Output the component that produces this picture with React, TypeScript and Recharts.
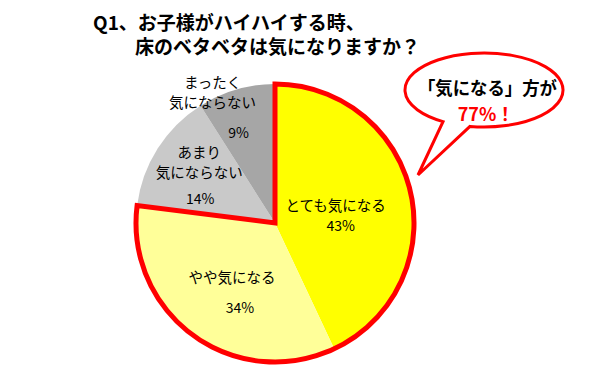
import { PieChart, Pie, Cell } from "recharts";

const categories = ["とても気になる", "やや気になる", "あまり気にならない", "まったく気にならない"];
const values = [43, 34, 14, 9];
const labelLines = [["とても気になる"], ["やや気になる"], ["あまり", "気にならない"], ["まったく", "気にならない"]];
const colors = ["#FFFF00", "#FFFF99", "#C9C9C9", "#A6A6A6"];

// grouped answer ("気になる" = とても + やや), outlined in red
const groupValues = [values[0] + values[1], values[2] + values[3]];
const titleLines = ["Q1、お子様がハイハイする時、", "床のベタベタは気になりますか？"];
const calloutLines = ["「気になる」方が", `${groupValues[0]}%！`];

// label placement tweaks per slice
const labelRadius = [0.44, 0.585, 0.645, 0.95];
const labelAngleShift = [-5, 4, 0, 12];
const pctGap = [20, 30, 26, 31];
const pctDx = [5, 8, 1, 26];

const FONT = '"Noto Sans CJK JP", "Noto Sans", sans-serif';
const RAD = Math.PI / 180;

const data = categories.map((name, i) => ({ name, value: values[i] }));
const groupData = [
  { name: "気になる", value: groupValues[0] },
  { name: "気にならない", value: groupValues[1] },
];

function renderLabel(props: any) {
  const { cx, cy, midAngle, outerRadius, index, value } = props;
  const a = (midAngle + labelAngleShift[index]) * RAD;
  const r = outerRadius * labelRadius[index];
  const x = cx + r * Math.cos(a);
  const y = cy - r * Math.sin(a);
  const lines = labelLines[index];
  const lineH = 20;
  const total = (lines.length - 1) * lineH + pctGap[index];
  const top = y - total / 2;
  return (
    <g key={`lbl-${index}`}>
      {lines.map((t, j) => (
        <text
          key={j}
          x={x}
          y={top + j * lineH}
          textAnchor="middle"
          dominantBaseline="central"
          fontFamily={FONT}
          fontSize={14.5}
          fill="#000"
        >
          {t}
        </text>
      ))}
      <text
        x={x + pctDx[index]}
        y={top + total}
        textAnchor="middle"
        dominantBaseline="central"
        fontFamily={FONT}
        fontSize={14}
        fill="#000"
      >
        {value}%
      </text>
    </g>
  );
}

// speech bubble outline: ellipse plus a tail pointing at the pie
function bubblePath() {
  const ex = 484, ey = 90, rx = 79, ry = 37;
  const pt = (x: number) => {
    const c = (x - ex) / rx;
    return [x, ey + ry * Math.sqrt(1 - c * c)];
  };
  const [x1, y1] = pt(443);
  const [x2, y2] = pt(470);
  return `M ${x1} ${y1} A ${rx} ${ry} 0 1 1 ${x2} ${y2} L 418 175 Z`;
}

export default function App() {
  return (
    <div style={{ position: "absolute", left: 0, top: 0, width: 600, height: 372, background: "#fff" }}>
      <PieChart width={600} height={372} margin={{ top: 0, right: 0, bottom: 0, left: 0 }}>
        <Pie
          data={data}
          dataKey="value"
          cx={275}
          cy={223}
          outerRadius={139}
          startAngle={90}
          endAngle={-270}
          stroke="none"
          label={renderLabel}
          labelLine={false}
          isAnimationActive={false}
        >
          {data.map((d, i) => (
            <Cell key={d.name} fill={colors[i]} />
          ))}
        </Pie>
        <Pie
          data={groupData}
          dataKey="value"
          cx={275}
          cy={223}
          outerRadius={139}
          startAngle={90}
          endAngle={-270}
          isAnimationActive={false}
        >
          <Cell fill="none" stroke="#FF0000" strokeWidth={5} strokeLinejoin="miter" />
          <Cell fill="none" stroke="none" />
        </Pie>
      </PieChart>
      <svg width={600} height={372} style={{ position: "absolute", left: 0, top: 0, pointerEvents: "none" }}>
        <text x={93} y={21} dominantBaseline="central" fontFamily={FONT} fontWeight="bold" fontSize={19} fill="#000">
          {titleLines[0]}
        </text>
        <text x={135} y={45} dominantBaseline="central" fontFamily={FONT} fontWeight="bold" fontSize={19} fill="#000">
          {titleLines[1]}
        </text>
        <path d={bubblePath()} fill="#fff" stroke="#FF0000" strokeWidth={3} strokeLinejoin="miter" />
        <text
          x={418}
          y={87}
          dominantBaseline="central"
          fontFamily={FONT}
          fontWeight="bold"
          fontSize={18}
          fill="#000"
          textLength={139}
          lengthAdjust="spacingAndGlyphs"
        >
          {calloutLines[0]}
        </text>
        <text x={486} y={113} textAnchor="middle" dominantBaseline="central" fontFamily={FONT} fontWeight="bold" fontSize={18} fill="#FF0000">
          {calloutLines[1]}
        </text>
      </svg>
    </div>
  );
}
